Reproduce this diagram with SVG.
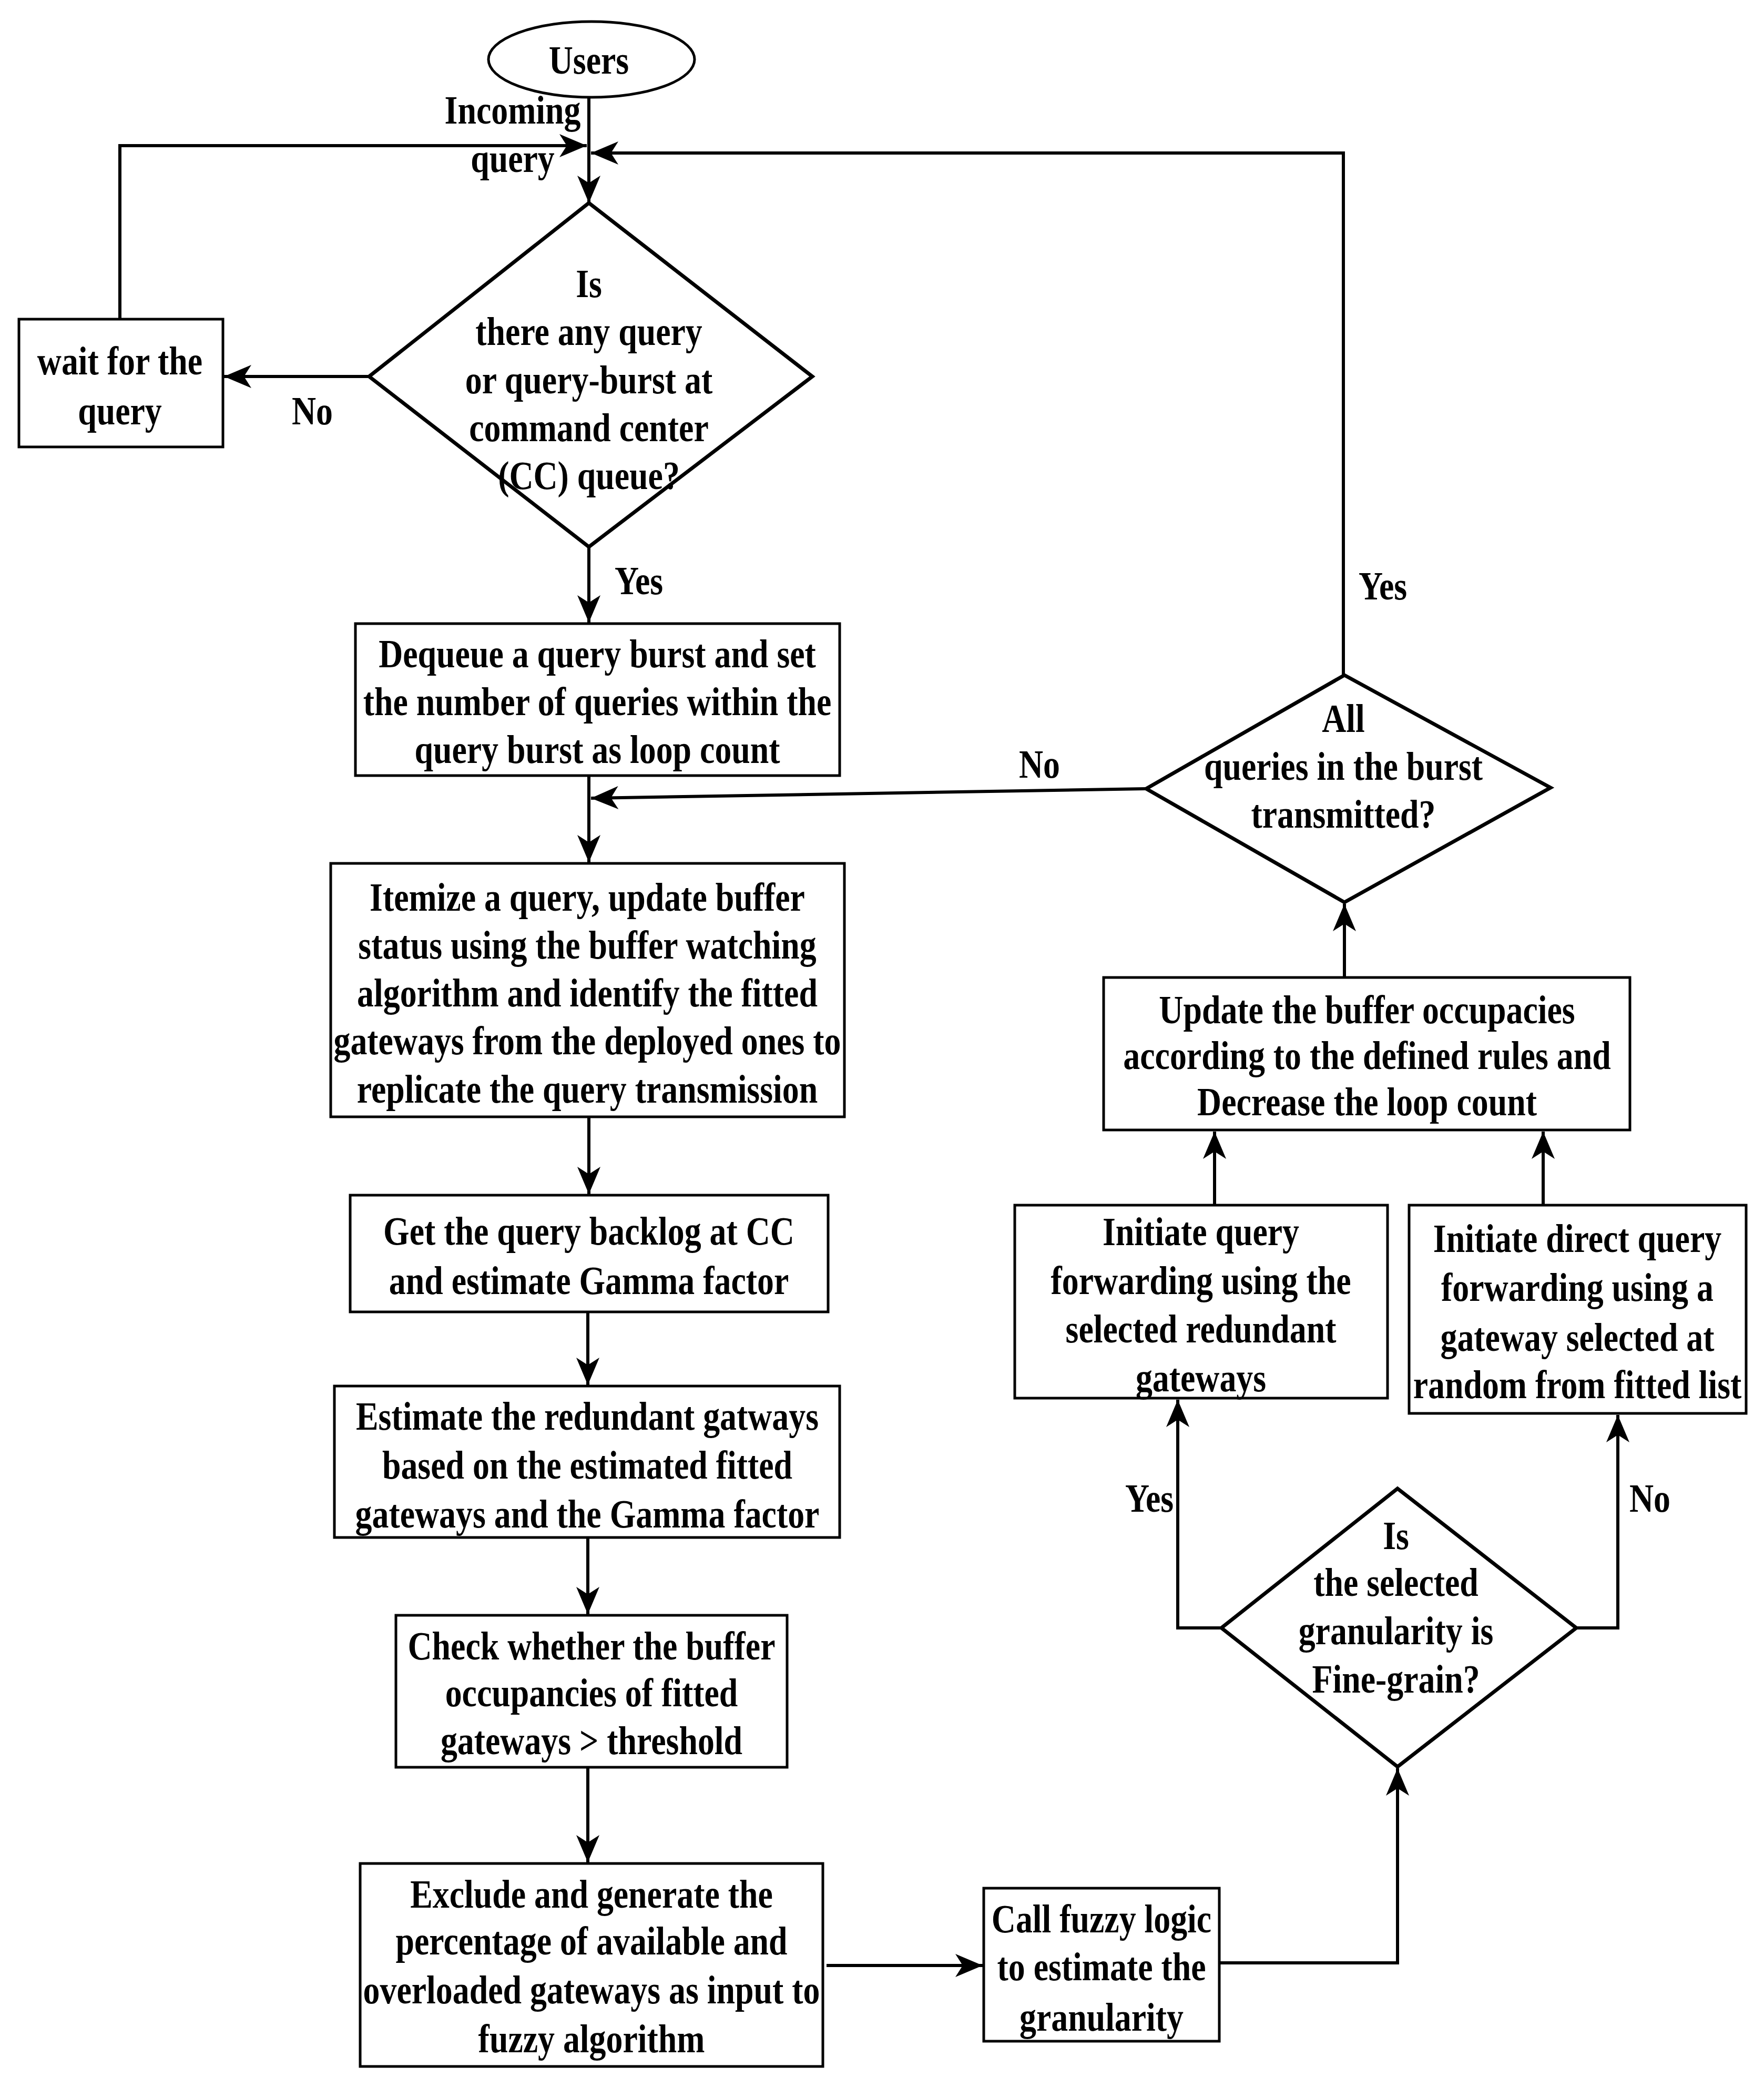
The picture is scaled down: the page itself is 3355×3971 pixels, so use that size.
<svg xmlns="http://www.w3.org/2000/svg" width="3355" height="3971" viewBox="0 0 3355 3971">
<style>
.box{fill:#fff;stroke:#000;stroke-width:5}
.dia{fill:#fff;stroke:#000;stroke-width:7}
.c{fill:none;stroke:#000;stroke-width:6}
text{font-family:"Liberation Serif","Times New Roman",serif;font-weight:bold;font-size:76px;text-anchor:middle;fill:#000}
</style>
<defs>
<marker id="ah" markerUnits="userSpaceOnUse" markerWidth="60" markerHeight="60" viewBox="-56 -30 60 60" refX="0" refY="0" orient="auto">
<path d="M0,0 L-52,-22 L-38,0 L-52,22 Z" fill="#000"/>
</marker>
</defs>
<rect width="3355" height="3971" fill="#fff"/>
<g id="connectors">
<path class="c" d="M1120,186 V386" marker-end="url(#ah)"/>
<path class="c" d="M228,607 V277 H1116" marker-end="url(#ah)"/>
<path class="c" d="M2555,1284 V291 H1124" marker-end="url(#ah)"/>
<path class="c" d="M702,716 H426" marker-end="url(#ah)"/>
<path class="c" d="M1120,1040 V1184" marker-end="url(#ah)"/>
<path class="c" d="M1120,1475 V1640" marker-end="url(#ah)"/>
<path class="c" d="M2180,1500 L1124,1518" marker-end="url(#ah)"/>
<path class="c" d="M1120,2124 V2271" marker-end="url(#ah)"/>
<path class="c" d="M1118,2495 V2634" marker-end="url(#ah)"/>
<path class="c" d="M1118,2924 V3070" marker-end="url(#ah)"/>
<path class="c" d="M1118,3361 V3542" marker-end="url(#ah)"/>
<path class="c" d="M1572,3738 H1869" marker-end="url(#ah)"/>
<path class="c" d="M2319,3733 H2658 V3363" marker-end="url(#ah)"/>
<path class="c" d="M2323,3096 H2240 V2662" marker-end="url(#ah)"/>
<path class="c" d="M2998,3096 H3077 V2691" marker-end="url(#ah)"/>
<path class="c" d="M2310,2292 V2152" marker-end="url(#ah)"/>
<path class="c" d="M2935,2292 V2152" marker-end="url(#ah)"/>
<path class="c" d="M2557,1859 V1719" marker-end="url(#ah)"/>
<g transform="translate(975 0) scale(0.84 1)"><text y="235">Incoming</text><text y="327">query</text></g>
<g transform="translate(594 0) scale(0.84 1)"><text y="807">No</text></g>
<g transform="translate(1215 0) scale(0.84 1)"><text y="1130">Yes</text></g>
<g transform="translate(2630 0) scale(0.84 1)"><text y="1140">Yes</text></g>
<g transform="translate(1977 0) scale(0.84 1)"><text y="1479">No</text></g>
<g transform="translate(2186 0) scale(0.84 1)"><text y="2875">Yes</text></g>
<g transform="translate(3138 0) scale(0.84 1)"><text y="2875">No</text></g>
</g>
<g id="n-users">
<ellipse class="box" cx="1125" cy="113" rx="196" ry="72"/>
<g transform="translate(1120 0) scale(0.84 1)"><text y="140">Users</text></g>
</g>
<g id="n-query-check">
<polygon class="dia" points="1120,386 1545,716 1120,1040 702,716"/>
<g transform="translate(1120 0) scale(0.84 1)"><text y="565">Is</text><text y="656">there any query</text><text y="748">or query-burst at</text><text y="839">command center</text><text y="930">(CC) queue?</text></g>
</g>
<g id="n-wait">
<rect class="box" x="36" y="607" width="388" height="243"/>
<g transform="translate(228 0) scale(0.84 1)"><text y="712">wait for the</text><text y="807">query</text></g>
</g>
<g id="n-dequeue">
<rect class="box" x="676" y="1186" width="921" height="289"/>
<g transform="translate(1136 0) scale(0.84 1)"><text y="1269">Dequeue a query burst and set</text><text y="1360">the number of queries within the</text><text y="1451">query burst as loop count</text></g>
</g>
<g id="n-itemize">
<rect class="box" x="629" y="1642" width="977" height="482"/>
<g transform="translate(1117 0) scale(0.84 1)"><text y="1732">Itemize a query, update buffer</text><text y="1823">status using the buffer watching</text><text y="1914">algorithm and identify the fitted</text><text y="2005">gateways from the deployed ones to</text><text y="2097">replicate the query transmission</text></g>
</g>
<g id="n-backlog">
<rect class="box" x="666" y="2273" width="909" height="222"/>
<g transform="translate(1120 0) scale(0.84 1)"><text y="2367">Get the query backlog at CC</text><text y="2461">and estimate Gamma factor</text></g>
</g>
<g id="n-estimate">
<rect class="box" x="636" y="2636" width="961" height="288"/>
<g transform="translate(1117 0) scale(0.84 1)"><text y="2719">Estimate the redundant gatways</text><text y="2812">based on the estimated fitted</text><text y="2905">gateways and the Gamma factor</text></g>
</g>
<g id="n-check">
<rect class="box" x="753" y="3072" width="744" height="289"/>
<g transform="translate(1125 0) scale(0.84 1)"><text y="3156">Check whether the buffer</text><text y="3245">occupancies of fitted</text><text y="3336">gateways &gt; threshold</text></g>
</g>
<g id="n-exclude">
<rect class="box" x="685" y="3544" width="880" height="386"/>
<g transform="translate(1125 0) scale(0.84 1)"><text y="3628">Exclude and generate the</text><text y="3717">percentage of available and</text><text y="3810">overloaded gateways as input to</text><text y="3903">fuzzy algorithm</text></g>
</g>
<g id="n-fuzzy">
<rect class="box" x="1871" y="3591" width="448" height="291"/>
<g transform="translate(2095 0) scale(0.84 1)"><text y="3675">Call fuzzy logic</text><text y="3766">to estimate the</text><text y="3862">granularity</text></g>
</g>
<g id="n-grain">
<polygon class="dia" points="2658,2831 2998,3096 2658,3360 2323,3096"/>
<g transform="translate(2655 0) scale(0.84 1)"><text y="2946">Is</text><text y="3035">the selected</text><text y="3127">granularity is</text><text y="3219">Fine-grain?</text></g>
</g>
<g id="n-redundant">
<rect class="box" x="1930" y="2292" width="709" height="367"/>
<g transform="translate(2284 0) scale(0.84 1)"><text y="2368">Initiate query</text><text y="2461">forwarding using the</text><text y="2553">selected redundant</text><text y="2646">gateways</text></g>
</g>
<g id="n-direct">
<rect class="box" x="2680" y="2292" width="641" height="396"/>
<g transform="translate(3000 0) scale(0.84 1)"><text y="2381">Initiate direct query</text><text y="2474">forwarding using a</text><text y="2569">gateway selected at</text><text y="2659">random from fitted list</text></g>
</g>
<g id="n-update">
<rect class="box" x="2099" y="1859" width="1001" height="290"/>
<g transform="translate(2600 0) scale(0.84 1)"><text y="1946">Update the buffer occupacies</text><text y="2033">according to the defined rules and</text><text y="2121">Decrease the loop count</text></g>
</g>
<g id="n-all">
<polygon class="dia" points="2557,1284 2949,1498 2557,1716 2180,1500"/>
<g transform="translate(2555 0) scale(0.84 1)"><text y="1392">All</text><text y="1483">queries in the burst</text><text y="1574">transmitted?</text></g>
</g>
</svg>
